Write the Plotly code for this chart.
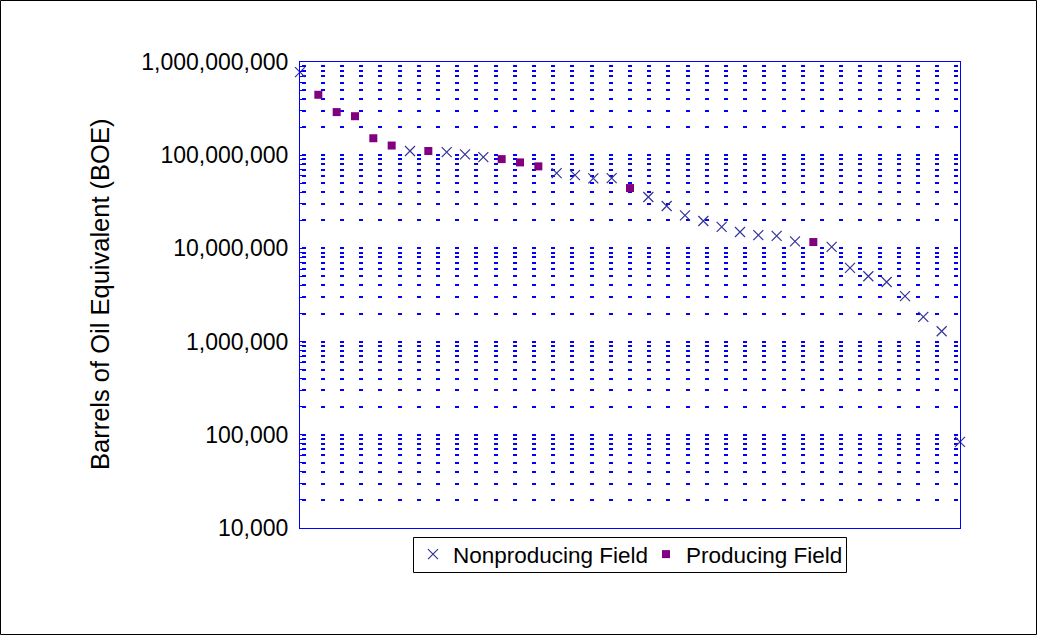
import plotly.graph_objects as go

# Field rank (0 = largest) and estimated reserves (BOE)
rank = list(range(37))
boe = [780e6, 445e6, 290e6, 262e6, 152e6, 127e6, 111e6, 111e6, 108e6, 102e6,
       95.5e6, 90.8e6, 83.7e6, 75.9e6, 64.3e6, 61.2e6, 56.4e6, 56.8e6, 44.4e6, 35.6e6,
       28.5e6, 22.6e6, 19.7e6, 17.0e6, 15.0e6, 13.9e6, 13.6e6, 11.9e6, 11.7e6, 10.4e6,
       6.17e6, 5.02e6, 4.36e6, 3.07e6, 1.84e6, 1.29e6, 84.1e3]
producing = [False, True, True, True, True, True, False, True, False, False,
             False, True, True, True, False, False, False, False, True, False,
             False, False, False, False, False, False, False, False, True, False,
             False, False, False, False, False, False, False]

ytick_vals = [1e4, 1e5, 1e6, 1e7, 1e8, 1e9]
ytick_text = ["10,000", "100,000", "1,000,000", "10,000,000", "100,000,000", "1,000,000,000"]

np_x = [r for r, p in zip(rank, producing) if not p]
np_y = [v for v, p in zip(boe, producing) if not p]
pr_x = [r for r, p in zip(rank, producing) if p]
pr_y = [v for v, p in zip(boe, producing) if p]

FONT = "Liberation Sans, Arial, sans-serif"
BLUE = "rgb(0,0,255)"
GRID_DASH = "0px,1.5px,4px,13.7px"

fig = go.Figure()
fig.add_trace(go.Scatter(
    x=np_x, y=np_y, mode="markers", name="Nonproducing Field",
    marker=dict(symbol="x-thin", size=10, color="#333399",
                line=dict(color="#333399", width=1.2)),
    cliponaxis=False))
fig.add_trace(go.Scatter(
    x=pr_x, y=pr_y, mode="markers", name="Producing Field",
    marker=dict(symbol="square", size=8, color="#800080"),
    cliponaxis=False))

W, H = 1038, 636
L, R, T, B = 300, 78, 62, 108
pw, ph = W - L - R, H - T - B


def px_x(x):
    return (x - L) / pw


def px_y(y):
    return (T + ph - y) / ph


fig.update_layout(
    width=W, height=H,
    margin=dict(l=L, r=R, t=T, b=B, autoexpand=False),
    paper_bgcolor="white", plot_bgcolor="white",
    font=dict(family=FONT, color="black", size=23),
    showlegend=True,
    legend=dict(orientation="h", x=px_x(413), xanchor="left",
                y=px_y(533), yanchor="top",
                borderwidth=0, bgcolor="rgba(0,0,0,0)",
                font=dict(size=22.5, family=FONT), itemsizing="trace",
                tracegroupgap=0, itemwidth=30,
                entrywidth=188, entrywidthmode="pixels"),
    xaxis=dict(range=[0, 36], showgrid=False, zeroline=False,
               showticklabels=False, ticks="",
               showline=True, linecolor=BLUE, linewidth=1, mirror=True),
    yaxis=dict(type="log", range=[4, 9],
               tickvals=ytick_vals, ticktext=ytick_text,
               ticks="inside", ticklen=4, tickcolor=BLUE,
               ticklabelstandoff=6,
               showline=True, linecolor=BLUE, linewidth=1, mirror=True,
               showgrid=True, gridcolor=BLUE, gridwidth=1.5, griddash=GRID_DASH,
               zeroline=False,
               tickfont=dict(size=23, family=FONT),
               minor=dict(dtick="D1", ticks="inside", ticklen=3, tickcolor=BLUE,
                          showgrid=True, gridcolor=BLUE, gridwidth=1.5,
                          griddash=GRID_DASH)),
    annotations=[dict(text="Barrels of Oil Equivalent (BOE)", textangle=-90,
                      xref="paper", yref="paper",
                      x=px_x(100), y=px_y(295),
                      xanchor="center", yanchor="middle", showarrow=False,
                      font=dict(size=25.5, family=FONT, color="black"))],
    shapes=[
        dict(type="rect", xref="paper", yref="paper",
             x0=px_x(0.5), x1=px_x(W - 1.5),
             y0=px_y(H - 1.5), y1=px_y(0.5),
             line=dict(color="black", width=1), fillcolor="rgba(0,0,0,0)",
             layer="below"),
        dict(type="rect", xref="paper", yref="paper",
             x0=px_x(413.5), x1=px_x(846.5),
             y0=px_y(572.5), y1=px_y(537.5),
             line=dict(color="black", width=1), fillcolor="white",
             layer="below"),
    ],
)

fig.write_html("out.html", config={"displayModeBar": False},
               post_script="document.body.style.margin='0px';document.body.style.overflow='hidden';")
